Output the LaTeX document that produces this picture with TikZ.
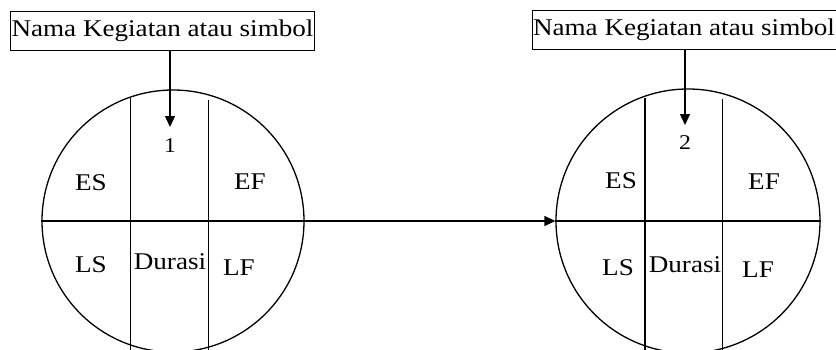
\documentclass[tikz,border=0pt]{standalone}
\usepackage{fontspec}
\setmainfont{Liberation Serif}
\newfontfamily\widerm[FakeStretch=1.13]{Liberation Serif}
\usetikzlibrary{arrows.meta}
\begin{document}
\begin{tikzpicture}[x=1pt,y=-1pt,
  line width=1.3pt,
  lbl/.style={font=\widerm\fontsize{24}{26}\selectfont, inner sep=0pt},
  num/.style={font=\widerm\fontsize{21}{23}\selectfont, inner sep=0pt},
  namebox/.style={draw, line width=1pt, font=\widerm\fontsize{24}{26}\selectfont, inner sep=1pt, minimum height=39pt},
  evt/.style={draw, circle, inner sep=0pt, minimum size=262pt},
  arr/.style={-{Triangle[length=11pt,width=10pt]}}]
\useasboundingbox (0,0) rectangle (836,349);
\clip (0,0) rectangle (836,349);

% event nodes
\node[evt] (c1) at (173,221) {};
\node[evt, minimum size=264pt] (c2) at (688,221) {};

% cell dividers of event 1
\draw (130.7,98) -- (130.7,352);
\draw (208.3,100) -- (208.3,352);
% cell dividers of event 2
\draw (645,98) -- (645,352);
\draw (722.3,99) -- (722.3,352);

% horizontal split and the link between the events
\draw[arr] (c1.west) -- (c2.west);
\draw (c2.west) -- (c2.east);

% labels
\node[namebox] (b1) at (162.5,31) {Nama Kegiatan atau simbol};
\node[namebox] (b2) at (684,30) {Nama Kegiatan atau simbol};
\coordinate (a1) at (170,127);
\coordinate (a2) at (685,125);
\draw[arr] (b1.south -| a1) -- (a1);
\draw[arr] (b2.south -| a2) -- (a2);

% cell texts of event 1
\node[num] (n1) at (170,146) {1};
\node[lbl] (es1) at (91,183) {ES};
\node[lbl] (ef1) at (250,182) {EF};
\node[lbl] (ls1) at (91,265) {LS};
\node[lbl] (d1) at (170,262) {Durasi};
\node[lbl] (lf1) at (239,268) {LF};

% cell texts of event 2
\node[num] (n2) at (685,143) {2};
\node[lbl] (es2) at (621,181) {ES};
\node[lbl] (ef2) at (764,182) {EF};
\node[lbl] (ls2) at (618,268) {LS};
\node[lbl] (d2) at (685,265) {Durasi};
\node[lbl] (lf2) at (758,270) {LF};
\end{tikzpicture}
\end{document}
